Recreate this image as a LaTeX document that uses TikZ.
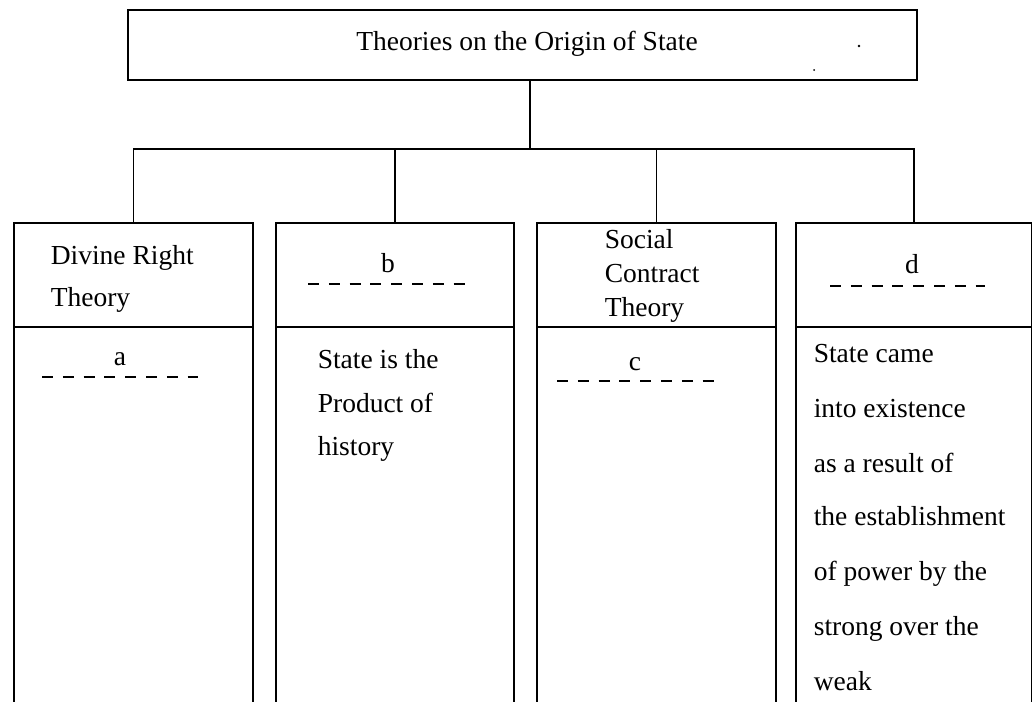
\documentclass[tikz,border=0pt]{standalone}
\usepackage{fontspec}
\setmainfont{Liberation Serif}
\begin{document}
\begin{tikzpicture}[x=1pt,y=-1pt, line width=1.6pt,
  every node/.style={font=\fontsize{27.5}{33}\selectfont, inner sep=0pt},
  txt/.style={anchor=base west},
  ctxt/.style={anchor=base},
  blank/.style={dash pattern=on 11pt off 9.8pt, line width=1.7pt},
  frame/.style={draw, rectangle, anchor=north west}]
\useasboundingbox (0,0) rectangle (1032,701);
\clip (0,0) rectangle (1032,701);
% title box
\node[frame, minimum width=789pt, minimum height=70pt] (top) at (127,9) {};
\node (title) at (527,44) {Theories on the Origin of State};
% header boxes
\node[frame, minimum width=239pt, minimum height=104pt] (h1) at (13,222) {};
\node[frame, minimum width=238pt, minimum height=104pt] (h2) at (275,222) {};
\node[frame, minimum width=239pt, minimum height=104pt] (h3) at (536,222) {};
\node[frame, minimum width=236pt, minimum height=104pt] (h4) at (795,222) {};
% body boxes (run off the bottom)
\node[frame, minimum width=239pt, minimum height=420pt] (b1) at (13,326) {};
\node[frame, minimum width=238pt, minimum height=420pt] (b2) at (275,326) {};
\node[frame, minimum width=239pt, minimum height=420pt] (b3) at (536,326) {};
\node[frame, minimum width=236pt, minimum height=420pt] (b4) at (795,326) {};
% connectors
\coordinate (j) at (530,149);
\draw (top.south -| j) -- (j);
\draw (h1.north) -- (h1.north |- j) -- (h4.north |- j) -- (h4.north);
\draw (h2.north) -- (h2.north |- j);
\draw (h3.north) -- (h3.north |- j);
% header texts
\node[txt] (t1a) at (50,264) {Divine Right};
\node[txt] (t1b) at (50,306) {Theory};
\node[ctxt] (lb) at (388,272) {b};
\draw[blank] (308,284) -- (467,284);
\node[txt] (t3a) at (604,248) {Social};
\node[txt] (t3b) at (604,282) {Contract};
\node[txt] (t3c) at (604,316) {Theory};
\node[ctxt] (ld) at (912,273) {d};
\draw[blank] (830,286) -- (985,286);
% body texts
\node[ctxt] (la) at (120,365) {a};
\draw[blank] (42,377) -- (198,377);
\node[txt] (s1) at (317,368) {State is the};
\node[txt] (s2) at (317,412) {Product of};
\node[txt] (s3) at (317,455) {history};
\node[ctxt] (lc) at (635,370) {c};
\draw[blank] (557,381) -- (716,381);
\node[txt] (d1) at (813,362) {State came};
\node[txt] (d2) at (813,417) {into existence};
\node[txt] (d3) at (813,472) {as a result of};
\node[txt] (d4) at (813,525) {the establishment};
\node[txt] (d5) at (813,580) {of power by the};
\node[txt] (d6) at (813,635) {strong over the};
\node[txt] (d7) at (813,690) {weak};
% scan specks
\fill (859,46) circle (1.4pt);
\fill (814,70) circle (1pt);
\end{tikzpicture}
\end{document}
